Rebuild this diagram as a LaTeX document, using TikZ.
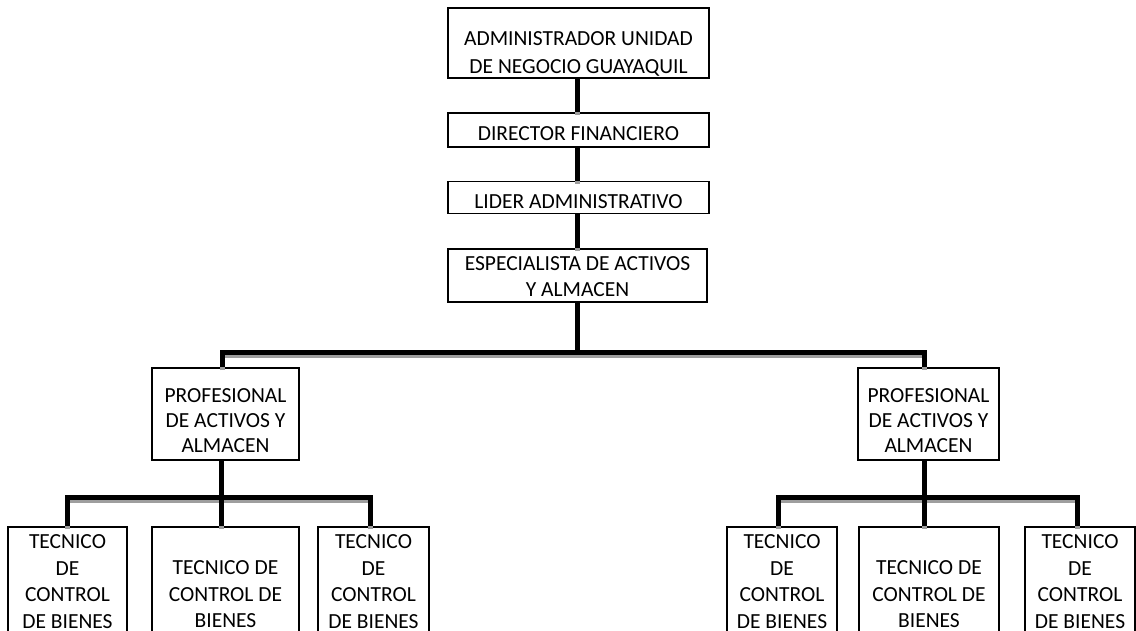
\documentclass[tikz,border=0pt]{standalone}
\usepackage{fontspec}
\setmainfont{Carlito}
\newcommand\connpath[1]{\draw[shadowline] #1; \draw[conn] #1;}
\begin{document}
\begin{tikzpicture}[x=1pt,y=-1pt,
  box/.style={draw=black, line width=1.8pt, fill=white, inner sep=0pt},
  txt/.style={align=center, inner sep=0pt, font=\fontsize{21.5}{26}\selectfont},
  conn/.style={line width=5pt, black},
  shadowline/.style={line width=5pt, black!38, transform canvas={shift={(0.5pt,-3pt)}}}]
\useasboundingbox (0,0) rectangle (1136,631);
\clip (0,0) rectangle (1136,631);
\fill[white] (0,0) rectangle (1136,631);

% boxes
\node[box, minimum width=261pt, minimum height=70pt] (top) at (578.5,43) {};
\node[box, minimum width=261pt, minimum height=34pt] (dir) at (578.5,130) {};
\node[box, minimum width=261pt, minimum height=32pt] (lid) at (578.5,197.5) {};
\node[box, minimum width=259pt, minimum height=53pt] (esp) at (577.5,275.5) {};
\node[box, minimum width=147pt, minimum height=92pt] (profL) at (225.5,414) {};
\node[box, minimum width=141pt, minimum height=92pt] (profR) at (928.5,414) {};
\node[box, minimum width=119pt, minimum height=128pt] (tL1) at (67.5,591) {};
\node[box, minimum width=147pt, minimum height=128pt] (tL2) at (225.5,591) {};
\node[box, minimum width=111pt, minimum height=128pt] (tL3) at (373.5,591) {};
\node[box, minimum width=110pt, minimum height=128pt] (tR1) at (782,591) {};
\node[box, minimum width=140pt, minimum height=128pt] (tR2) at (929,591) {};
\node[box, minimum width=110pt, minimum height=128pt] (tR3) at (1080,591) {};

% texts
\node[txt, font=\fontsize{21.5}{28}\selectfont] (topt) at (578.5,54) {ADMINISTRADOR UNIDAD\\DE NEGOCIO GUAYAQUIL};
\node[txt] (dirt) at (578.5,133.5) {DIRECTOR FINANCIERO};
\node[txt] (lidt) at (578.5,201.5) {LIDER ADMINISTRATIVO};
\node[txt, font=\fontsize{21.5}{25.5}\selectfont] (espt) at (577.5,276.5) {ESPECIALISTA DE ACTIVOS\\Y ALMACEN};
\node[txt, font=\fontsize{21.5}{25}\selectfont] (profLt) at (225.5,421) {PROFESIONAL\\DE ACTIVOS Y\\ALMACEN};
\node[txt, font=\fontsize{21.5}{25}\selectfont] (profRt) at (928.5,421) {PROFESIONAL\\DE ACTIVOS Y\\ALMACEN};
\node[txt, font=\fontsize{21.5}{26.5}\selectfont] (tL1t) at (67.5,581.5) {TECNICO\\DE\\CONTROL\\DE BIENES};
\node[txt, font=\fontsize{21.5}{26.5}\selectfont] (tL2t) at (225.5,594.5) {TECNICO DE\\CONTROL DE\\BIENES};
\node[txt, font=\fontsize{21.5}{26.5}\selectfont] (tL3t) at (373.5,581.5) {TECNICO\\DE\\CONTROL\\DE BIENES};
\node[txt, font=\fontsize{21.5}{26.5}\selectfont] (tR1t) at (782,581.5) {TECNICO\\DE\\CONTROL\\DE BIENES};
\node[txt, font=\fontsize{21.5}{26.5}\selectfont] (tR2t) at (929,594.5) {TECNICO DE\\CONTROL DE\\BIENES};
\node[txt, font=\fontsize{21.5}{26.5}\selectfont] (tR3t) at (1080,581.5) {TECNICO\\DE\\CONTROL\\DE BIENES};

% connector helper coordinates
\coordinate (xm) at (577,0);
\coordinate (busA) at (577,352);
\coordinate (xL) at (222,0);
\coordinate (xR) at (924,0);
\coordinate (busL) at (221,497);
\coordinate (busR) at (924,497);
\coordinate (xl1) at (67,0);
\coordinate (xl3) at (370,0);
\coordinate (xr1) at (778,0);
\coordinate (xr3) at (1077,0);

% connectors
\connpath{(top.south -| xm) -- (dir.north -| xm)}
\connpath{(dir.south -| xm) -- (lid.north -| xm)}
\connpath{(lid.south -| xm) -- (esp.north -| xm)}
\connpath{(esp.south -| xm) -- (busA)}
\connpath{(profL.north -| xL) -- (busA -| xL) -- (busA -| xR) -- (profR.north -| xR)}
\connpath{(profL.south -| busL) -- (busL)}
\connpath{(tL1.north -| xl1) -- (busL -| xl1) -- (busL -| xl3) -- (tL3.north -| xl3)}
\connpath{(busL) -- (tL2.north -| busL)}
\connpath{(profR.south -| busR) -- (busR)}
\connpath{(tR1.north -| xr1) -- (busR -| xr1) -- (busR -| xr3) -- (tR3.north -| xr3)}
\connpath{(busR) -- (tR2.north -| busR)}
\end{tikzpicture}
\end{document}
